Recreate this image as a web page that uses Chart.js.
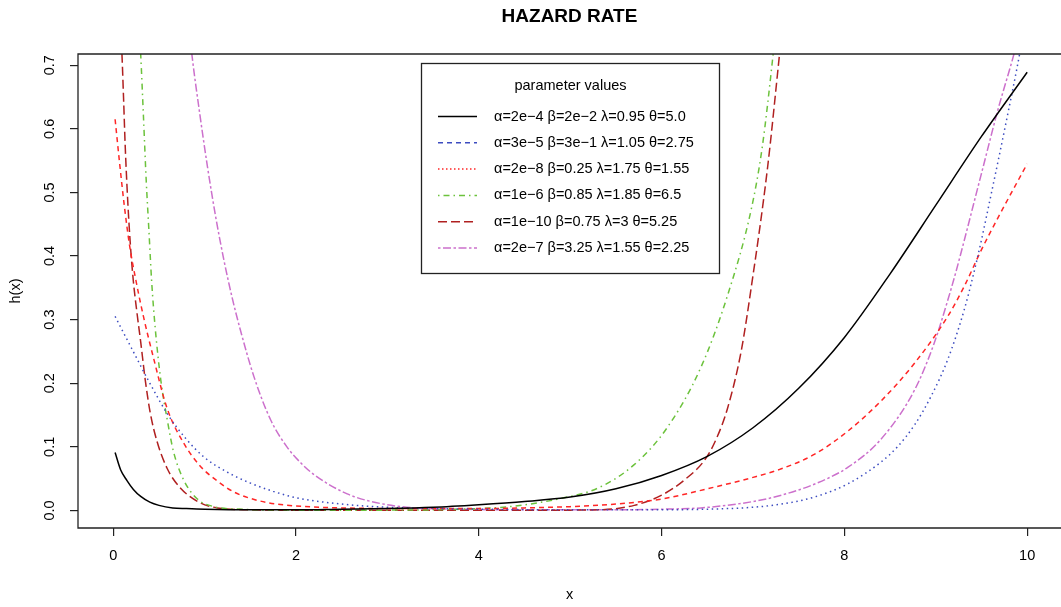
<!DOCTYPE html>
<html>
<head>
<meta charset="utf-8">
<title>Hazard rate</title>
<script src="https://cdn.jsdelivr.net/npm/chart.js@4"></script>
<style>
  html, body { margin: 0; padding: 0; background: #fff; }
  canvas { display: block; }
</style>
</head>
<body>
<canvas id="hazard" width="1061" height="607"></canvas>
<script>
const FONT = '"Liberation Sans", Arial, Helvetica, sans-serif';

const xTicks = [0, 2, 4, 6, 8, 10];
const yTicks = [0, 0.1, 0.2, 0.3, 0.4, 0.5, 0.6, 0.7];

const seriesLabels = [
  'α=2e−4 β=2e−2 λ=0.95 θ=5.0',
  'α=3e−5 β=3e−1 λ=1.05 θ=2.75',
  'α=2e−8 β=0.25 λ=1.75 θ=1.55',
  'α=1e−6 β=0.85 λ=1.85 θ=6.5',
  'α=1e−10 β=0.75 λ=3 θ=5.25',
  'α=2e−7 β=3.25 λ=1.55 θ=2.25'
];

// hazard curves h(x), one pair of arrays per parameter set
const blackX = [0.02, 0.08, 0.15, 0.22, 0.3, 0.4, 0.5, 0.65, 0.8, 1.0, 1.5, 2.0, 2.5, 3.0, 3.5, 4.0, 4.5, 5.0, 5.5, 6.0, 6.5, 7.0, 7.5, 8.0, 8.5, 9.0, 9.5, 10.0];
const blackY = [0.091, 0.064, 0.047, 0.033, 0.022, 0.013, 0.008, 0.004, 0.003, 0.002, 0.001, 0.001, 0.002, 0.003, 0.005, 0.009, 0.014, 0.021, 0.034, 0.055, 0.085, 0.13, 0.192, 0.272, 0.372, 0.48, 0.588, 0.689];

const blueX = [0.02, 0.2, 0.4, 0.6, 0.8, 1.0, 1.25, 1.5, 1.75, 2.0, 2.5, 3.0, 3.5, 4.0, 5.0, 6.0, 6.5, 7.0, 7.31, 7.67, 8.04, 8.4, 8.58, 8.77, 8.95, 9.13, 9.31, 9.46, 9.61, 9.79, 9.92, 10.0];
const blueY = [0.305, 0.255, 0.2, 0.15, 0.112, 0.083, 0.06, 0.043, 0.03, 0.02, 0.01, 0.005, 0.003, 0.002, 0.001, 0.001, 0.002, 0.005, 0.01, 0.021, 0.042, 0.076, 0.1, 0.135, 0.18, 0.237, 0.315, 0.4, 0.5, 0.625, 0.72, 0.79];

const redX = [0.02, 0.07, 0.12, 0.18, 0.25, 0.33, 0.44, 0.59, 0.77, 0.95, 1.15, 1.32, 1.5, 1.7, 2.0, 2.5, 3.0, 3.5, 4.0, 4.5, 5.0, 5.5, 6.0, 6.5, 7.0, 7.3, 7.67, 8.04, 8.4, 8.77, 9.13, 9.31, 9.5, 9.68, 10.0];
const redY = [0.615, 0.545, 0.48, 0.415, 0.36, 0.305, 0.24, 0.16, 0.106, 0.07, 0.045, 0.029, 0.019, 0.012, 0.007, 0.004, 0.003, 0.003, 0.003, 0.004, 0.006, 0.01, 0.018, 0.034, 0.052, 0.065, 0.088, 0.125, 0.172, 0.232, 0.305, 0.352, 0.41, 0.46, 0.545];

const greenX = [0.25, 0.3, 0.33, 0.36, 0.39, 0.42, 0.46, 0.52, 0.59, 0.66, 0.77, 0.92, 1.1, 1.4, 2.0, 3.0, 3.5, 4.0, 4.4, 4.9, 5.3, 5.7, 6.06, 6.43, 6.73, 6.98, 7.1, 7.22, 7.3];
const greenY = [0.85, 0.717, 0.62, 0.52, 0.44, 0.36, 0.285, 0.205, 0.143, 0.092, 0.048, 0.018, 0.006, 0.002, 0.0005, 0.0005, 0.001, 0.003, 0.007, 0.019, 0.035, 0.072, 0.13, 0.225, 0.342, 0.473, 0.57, 0.717, 0.83];

const darkRedX = [0.06, 0.095, 0.113, 0.13, 0.157, 0.186, 0.22, 0.26, 0.3, 0.35, 0.405, 0.48, 0.59, 0.73, 0.95, 1.14, 1.5, 2.0, 3.0, 4.0, 5.0, 5.33, 5.7, 6.0, 6.25, 6.48, 6.6, 6.72, 6.87, 6.98, 7.16, 7.29, 7.35];
const darkRedY = [0.82, 0.717, 0.646, 0.575, 0.49, 0.42, 0.36, 0.31, 0.265, 0.205, 0.153, 0.108, 0.066, 0.036, 0.012, 0.004, 0.001, 0.0003, 0.0002, 0.0002, 0.0005, 0.001, 0.008, 0.024, 0.048, 0.081, 0.113, 0.16, 0.25, 0.35, 0.54, 0.717, 0.8];

const pinkX = [0.8, 0.86, 0.95, 1.03, 1.12, 1.21, 1.3, 1.39, 1.54, 1.72, 1.9, 2.05, 2.2, 2.56, 2.92, 3.29, 3.75, 4.5, 5.5, 6.0, 6.43, 7.0, 7.31, 7.7, 8.04, 8.4, 8.77, 8.98, 9.13, 9.22, 9.5, 9.68, 9.86, 10.0];
const pinkY = [0.8, 0.717, 0.62, 0.541, 0.462, 0.394, 0.335, 0.284, 0.21, 0.143, 0.1, 0.075, 0.056, 0.026, 0.011, 0.004, 0.002, 0.001, 0.001, 0.002, 0.004, 0.014, 0.024, 0.043, 0.068, 0.112, 0.19, 0.262, 0.33, 0.375, 0.53, 0.63, 0.72, 0.8];

const seriesX = [blackX, blueX, redX, greenX, darkRedX, pinkX];
const seriesY = [blackY, blueY, redY, greenY, darkRedY, pinkY];

const colors = ['#000000', '#3c4cc0', '#ff2626', '#6cc23c', '#b02020', '#cc70cc'];
const lineDash = [[], [1.5, 3.5], [5, 4], [1.5, 4, 6, 4], [9, 4], [2.5, 2.5, 8, 2.5]];
const legendDash = [[], [5, 4], [1.5, 2.5], [1.5, 4, 6, 4], [9, 4], [2.5, 2.5, 8, 2.5]];

const datasets = seriesX.map((xs, i) => ({
  label: seriesLabels[i],
  data: xs.map((x, j) => ({ x: x, y: seriesY[i][j] })),
  borderColor: colors[i],
  borderWidth: 1.5,
  borderDash: lineDash[i],
  pointRadius: 0,
  showLine: true,
  fill: false,
  cubicInterpolationMode: 'monotone'
}));

// plot frame (the right edge lies just past the canvas)
const frame = {
  id: 'frame',
  afterDraw(chart) {
    const { ctx, chartArea: a } = chart;
    ctx.save();
    ctx.strokeStyle = '#222';
    ctx.lineWidth = 1.3;
    ctx.beginPath();
    ctx.moveTo(a.right + 2, a.top);
    ctx.lineTo(a.left, a.top);
    ctx.lineTo(a.left, a.bottom);
    ctx.lineTo(a.right + 2, a.bottom);
    ctx.stroke();
    ctx.restore();
  }
};

// y tick labels, turned to read upward
const yLabels = {
  id: 'yLabels',
  afterDraw(chart) {
    const { ctx } = chart;
    const y = chart.scales.y;
    ctx.save();
    ctx.fillStyle = '#000';
    ctx.font = '14.5px ' + FONT;
    ctx.textAlign = 'center';
    ctx.textBaseline = 'middle';
    yTicks.forEach(v => {
      ctx.save();
      ctx.translate(50, y.getPixelForValue(v));
      ctx.rotate(-Math.PI / 2);
      ctx.fillText(v.toFixed(1), 0, 0);
      ctx.restore();
    });
    ctx.restore();
  }
};

// boxed legend with its own line samples
const boxLegend = {
  id: 'boxLegend',
  afterDraw(chart) {
    const { ctx } = chart;
    const left = 421.5, top = 63.5, w = 298, h = 210;
    ctx.save();
    ctx.fillStyle = '#fff';
    ctx.fillRect(left, top, w, h);
    ctx.strokeStyle = '#222';
    ctx.lineWidth = 1.3;
    ctx.strokeRect(left, top, w, h);
    ctx.fillStyle = '#000';
    ctx.font = '14.5px ' + FONT;
    ctx.textBaseline = 'middle';
    ctx.textAlign = 'center';
    ctx.fillText('parameter values', left + w / 2, 86);
    ctx.textAlign = 'left';
    seriesLabels.forEach((label, i) => {
      const cy = 116.5 + i * 26.3;
      ctx.strokeStyle = colors[i];
      ctx.lineWidth = 1.5;
      ctx.setLineDash(legendDash[i]);
      ctx.beginPath();
      ctx.moveTo(438, cy);
      ctx.lineTo(477, cy);
      ctx.stroke();
      ctx.setLineDash([]);
      ctx.fillText(label, 494, cy);
    });
    ctx.restore();
  }
};

new Chart(document.getElementById('hazard'), {
  type: 'scatter',
  data: { datasets: datasets },
  options: {
    responsive: false,
    animation: false,
    events: [],
    layout: { padding: 0 },
    plugins: {
      legend: { display: false },
      tooltip: { enabled: false },
      title: {
        display: true,
        text: 'HAZARD RATE',
        fullSize: false,
        color: '#000',
        font: { family: FONT, size: 19, weight: 'bold' },
        padding: { top: 5.6, bottom: 25.6 }
      }
    },
    scales: {
      x: {
        type: 'linear',
        min: -0.386,
        max: 10.37,
        afterFit: s => { s.height = 79; },
        afterBuildTicks: s => { s.ticks = xTicks.map(v => ({ value: v })); },
        border: { display: false },
        grid: { drawOnChartArea: false, tickLength: 8, color: '#222', lineWidth: 1.2 },
        ticks: { color: '#000', font: { family: FONT, size: 14.5 }, padding: 11, maxRotation: 0, autoSkip: false },
        title: { display: true, text: 'x', color: '#000', font: { family: FONT, size: 14.5 }, padding: { top: 0, bottom: 3 } }
      },
      y: {
        type: 'linear',
        min: -0.0276,
        max: 0.7176,
        afterFit: s => { s.width = 78; },
        afterBuildTicks: s => { s.ticks = yTicks.map(v => ({ value: v })); },
        border: { display: false },
        grid: { drawOnChartArea: false, tickLength: 8, color: '#222', lineWidth: 1.2 },
        ticks: { display: false },
        title: { display: true, text: 'h(x)', color: '#000', font: { family: FONT, size: 14.5 }, padding: { top: 7, bottom: 0 } }
      }
    }
  },
  plugins: [frame, yLabels, boxLegend]
});
</script>
</body>
</html>
